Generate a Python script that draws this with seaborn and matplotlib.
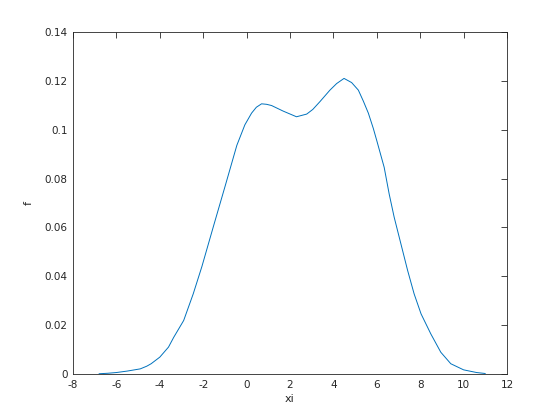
import matplotlib
matplotlib.use("Agg")
import matplotlib.pyplot as plt
import seaborn as sns
import pandas as pd

xi = [-6.8, -6.4, -6.0, -5.5, -4.9, -4.6, -4.4, -4.0, -3.6, -3.36, -2.9, -2.46, -2.06, -1.52,
      -0.98, -0.45, -0.08, 0.23, 0.45, 0.69, 0.92, 1.15, 1.69, 2.3, 2.77, 3.05, 3.38, 3.84,
      4.15, 4.49, 4.84, 5.15, 5.38, 5.61, 5.84, 6.0, 6.34, 6.57, 6.8, 7.11, 7.42, 7.72,
      8.04, 8.49, 8.95, 9.41, 10.0, 10.6, 11.0]
f = [0.0001, 0.0003, 0.0006, 0.0012, 0.0021, 0.0032, 0.0042, 0.0069, 0.0110, 0.0150, 0.0219,
     0.0328, 0.0440, 0.0607, 0.0772, 0.0936, 0.1020, 0.1068, 0.1092, 0.1106, 0.1104, 0.1099,
     0.1076, 0.1053, 0.1064, 0.1083, 0.1115, 0.1162, 0.1189, 0.1210, 0.1193, 0.1162, 0.1117,
     0.1068, 0.1005, 0.0955, 0.0846, 0.0737, 0.0642, 0.0533, 0.0424, 0.0328, 0.0246, 0.0164,
     0.0089, 0.0042, 0.0017, 0.0006, 0.0002]

xticks = [-8, -6, -4, -2, 0, 2, 4, 6, 8, 10, 12]
yticks = [0, 0.02, 0.04, 0.06, 0.08, 0.1, 0.12, 0.14]
ytick_labels = ["0", "0.02", "0.04", "0.06", "0.08", "0.1", "0.12", "0.14"]

df = pd.DataFrame({"xi": xi, "f": f})

sns.set_style("white")
plt.rcParams['font.family'] = ['DejaVu Sans']

fig = plt.figure(figsize=(5.6, 4.2), dpi=100)
ax = fig.add_axes([73/560, 46/420, 434/560, 342/420])
sns.lineplot(data=df, x="xi", y="f", ax=ax, color="#0072BD", linewidth=0.7)

ax.set_xlim(-8, 12)
ax.set_ylim(0, 0.14)
ax.set_xticks(xticks)
ax.set_xticklabels([str(t) for t in xticks])
ax.set_yticks(yticks)
ax.set_yticklabels(ytick_labels)
ax.tick_params(direction="in", length=4, width=0.6, top=True, right=True,
               labelsize=7.5, labelcolor="#262626", color="#262626", pad=4)
for s in ax.spines.values():
    s.set_visible(True)
    s.set_color("#262626")
    s.set_linewidth(0.6)
ax.set_xlabel("xi", fontsize=8, color="#262626", labelpad=3)
ax.set_ylabel("f", fontsize=8, color="#262626", labelpad=8)
ax.grid(False)

fig.savefig("out.png", dpi=100)
